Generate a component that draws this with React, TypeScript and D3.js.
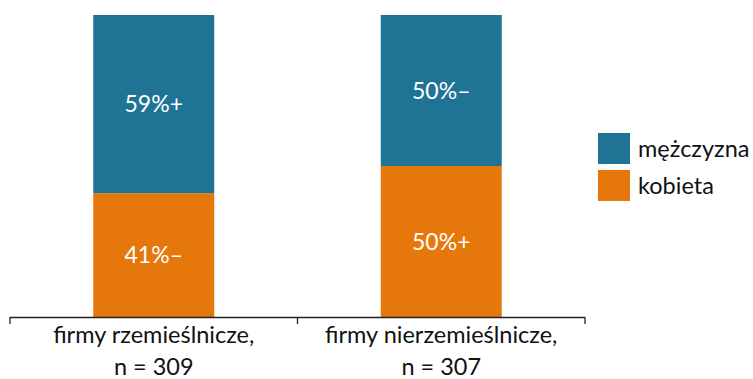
import React from "react";
import * as d3 from "d3";

// Company type categories (two-line labels)
const categories = ["firmy rzemieślnicze,", "firmy nierzemieślnicze,"];
const sampleSizes = ["n = 309", "n = 307"];

// Share of owners by gender, in percent
const series = ["kobieta", "mężczyzna"];
const kobieta = [41, 50];
const mezczyzna = [59, 50];
const kobietaLabels = ["41%–", "50%+"];
const mezczyznaLabels = ["59%+", "50%–"];

const colors: Record<string, string> = {
  mężczyzna: "#1f7394",
  kobieta: "#e5770b",
};

const W = 753;
const H = 379;
const FONT = "Lato, 'Open Sans', sans-serif";

export default function App() {
  const x = d3.scaleBand<string>().domain(categories).range([10, 585]).paddingInner(0).paddingOuter(0);
  const y = d3.scaleLinear().domain([0, 100]).range([317, 15]);
  const barW = 121;

  const rows = categories.map((c, i) => ({
    cat: c,
    k: kobieta[i],
    m: mezczyzna[i],
    kl: kobietaLabels[i],
    ml: mezczyznaLabels[i],
    n: sampleSizes[i],
  }));

  const stack = d3.stack<any>().keys(["k", "m"])(rows);

  const legendItems = ["mężczyzna", "kobieta"];

  return (
    <svg width={W} height={H} style={{ position: "absolute", left: 0, top: 0 }} fontFamily={FONT}>
      <rect width={W} height={H} fill="#fff" />
      {stack.map((layer, li) =>
        layer.map((d, i) => {
          const cx = x(categories[i])! + x.bandwidth() / 2;
          const fill = li === 0 ? colors.kobieta : colors["mężczyzna"];
          const y0 = y(d[1]);
          const y1 = y(d[0]);
          const label = li === 0 ? rows[i].kl : rows[i].ml;
          return (
            <g key={`${li}-${i}`}>
              <rect x={cx - barW / 2} y={y0} width={barW} height={y1 - y0} fill={fill} />
              <text
                x={cx}
                y={(y0 + y1) / 2}
                dy="0.35em"
                textAnchor="middle"
                fill="#fff"
                fontSize={23}
              >
                {label}
              </text>
            </g>
          );
        })
      )}
      {/* category axis */}
      <line x1={10} x2={585} y1={317.5} y2={317.5} stroke="#222" strokeWidth={1.3} />
      {[...categories.map((c) => x(c)!), 585].map((t, i) => (
        <line key={i} x1={t} x2={t} y1={317} y2={324} stroke="#222" strokeWidth={1.3} />
      ))}
      {rows.map((r, i) => {
        const cx = x(r.cat)! + x.bandwidth() / 2;
        return (
          <g key={r.cat} fill="#111" fontSize={23.5} textAnchor="middle">
            <text x={cx} y={343}>{r.cat}</text>
            <text x={cx} y={375}>{r.n}</text>
          </g>
        );
      })}
      {/* legend */}
      {legendItems.map((s, i) => (
        <g key={s} transform={`translate(598, ${133 + i * 37})`}>
          <rect width={32} height={31} fill={colors[s]} />
          <text x={40} y={16} dy="0.35em" fontSize={23.5} fill="#111">{s}</text>
        </g>
      ))}
    </svg>
  );
}
